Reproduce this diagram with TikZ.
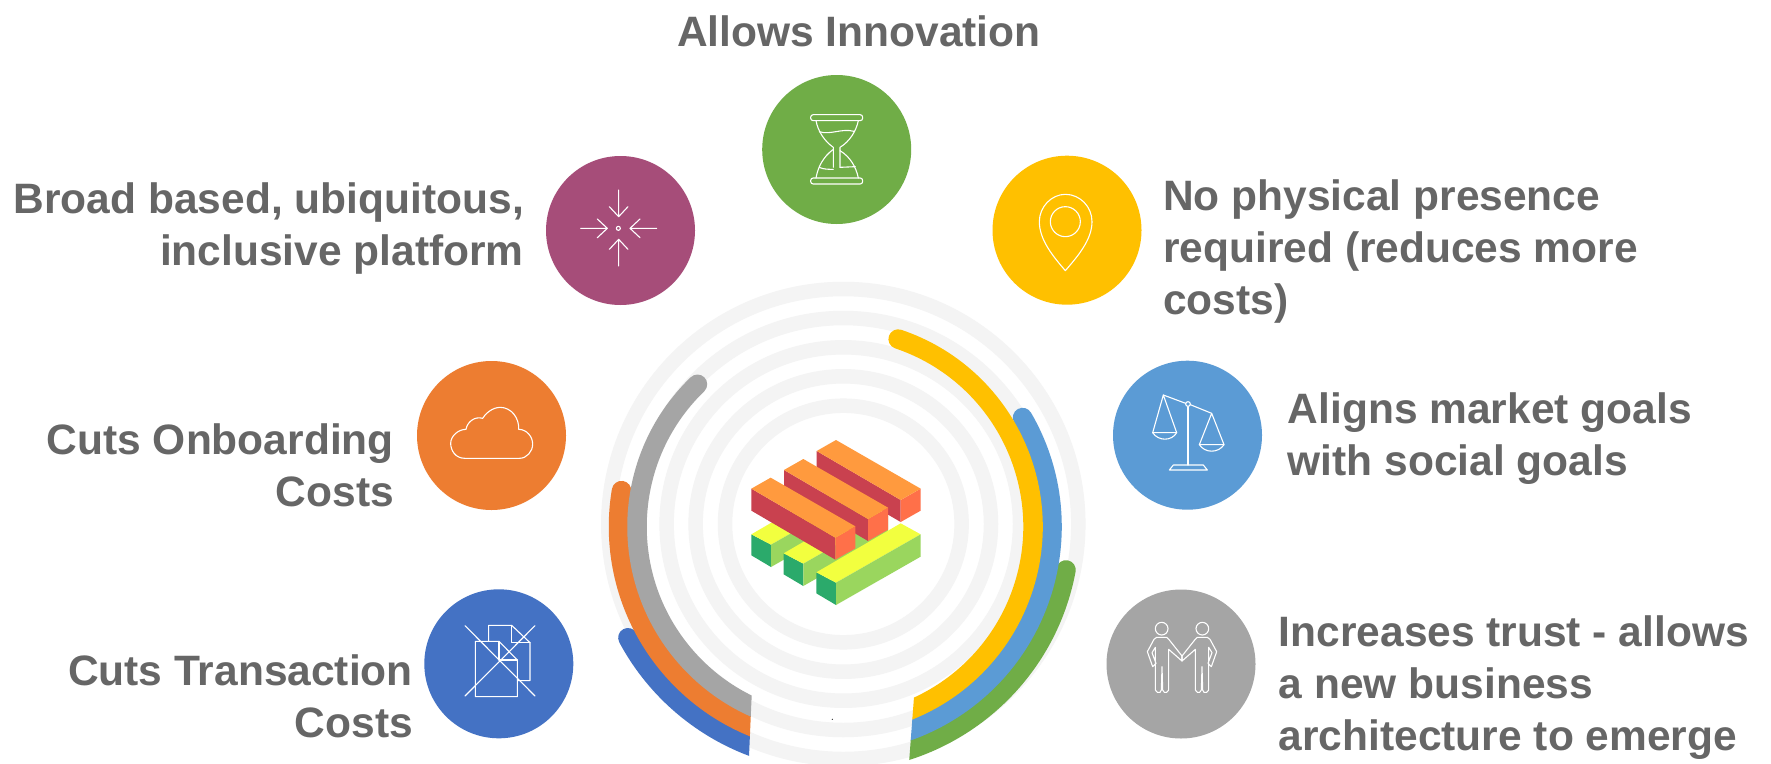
\documentclass[tikz,border=0pt]{standalone}
\usepackage{fontspec}
\setmainfont{Liberation Sans}
\definecolor{txt}{HTML}{666666}
\definecolor{ringc}{HTML}{F4F4F4}
\definecolor{cpurple}{HTML}{A64D79}
\definecolor{cgreen}{HTML}{70AD47}
\definecolor{cyellow}{HTML}{FFC000}
\definecolor{cblue}{HTML}{5B9BD5}
\definecolor{corange}{HTML}{ED7D31}
\definecolor{cgray}{HTML}{A5A5A5}
\definecolor{cdoc}{HTML}{4472C4}
\definecolor{ltop}{HTML}{FF9A3E}
\definecolor{lred}{HTML}{C9414F}
\definecolor{lend}{HTML}{FF7049}
\definecolor{lyel}{HTML}{F2FF3F}
\definecolor{lgrn}{HTML}{2BAA6B}
\definecolor{llgt}{HTML}{9AD65E}
\tikzset{
  disc/.style={circle,fill=#1,draw=none,minimum size=149pt,inner sep=0pt},
  label text/.style={font=\fontsize{42.5}{52}\selectfont\bfseries,text=txt,inner sep=0pt},
  ringline/.style={draw=ringc,line width=14.5pt},
  band/.style={draw=#1,line width=19.5pt,line cap=round},
  iconline/.style={draw=white,line width=1.1pt,line join=round,line cap=round},
  person/.pic={
    \draw[iconline] (95,56) circle[radius=19];
    \draw[iconline] (80,82) -- (110,82) -- (118,90) -- (156,138) -- (156,153) -- (116,118) -- (116,240) -- (110,247) -- (103,247) -- (98,240) -- (96,170) -- (94,240) -- (90,247) -- (82,247) -- (76,240) -- (76,112) -- (66,128) -- (78,160) -- (68,170) -- (52,125) -- (72,88) -- cycle;
  }
}
\begin{document}
\begin{tikzpicture}[x=1pt,y=1pt]
\clip (0,0) rectangle (1771,-763);
\fill[white] (0,0) rectangle (1771,-763);

% pale rings
\coordinate (rc) at (843.3,-524);
\foreach \r in {235,206,176.7,147.7,118.3}
  \draw[ringline] (rc) circle[radius=\r];

% coloured arcs
\coordinate (ac) at (835,-526.7);
\begin{scope}
  \clip (500,-250) -- (755,-250) -- (751.7,-695) -- (748.7,-763) -- (500,-763) -- cycle;
  \draw[band=cdoc] (ac) ++(208.2:235) arc (208.2:265:235);
  \draw[band=corange] (ac) ++(170.4:216.5) arc (170.4:265:216.5);
  \draw[band=cgray] (ac) ++(134:198) arc (134:265:198);
\end{scope}
\begin{scope}
  \clip (850,-250) -- (1200,-250) -- (1200,-763) -- (909,-763) -- (914,-697) -- (880,-500) -- (850,-400) -- cycle;
  \draw[band=cgreen] (ac) ++(-10.6:235) arc (-10.6:-95:235);
  \draw[band=cblue] (ac) ++(30.2:217) arc (30.2:-95:217);
  \draw[band=cyellow] (ac) ++(71.4:198) arc (71.4:-95:198);
\end{scope}
\fill[black] (832.3,-719.3) circle[radius=0.6];

% central logo
\begin{scope}[shift={(590,-270)},x=0.33333pt,y=-0.33333pt]
  \foreach \dx/\dy in {-195/-114,-98/-57,0/0}{
    \begin{scope}[shift={(\dx,\dy)}]
      \fill[lgrn] (679,907) -- (738,938) -- (738,1005) -- (679,970) -- cycle;
      \fill[lyel] (679,907) -- (932,760) -- (992,793) -- (738,938) -- cycle;
      \fill[llgt] (738,938) -- (992,793) -- (992,860) -- (738,1005) -- cycle;
    \end{scope}
  }
  \foreach \dx/\dy in {0/0,-98/57,-196/113}{
    \begin{scope}[shift={(\dx,\dy)}]
      \fill[lred] (680,543) -- (932,690) -- (932,756) -- (680,609) -- cycle;
      \fill[lend] (932,690) -- (992,656) -- (992,722) -- (932,756) -- cycle;
      \fill[ltop] (680,543) -- (738,510) -- (992,656) -- (932,690) -- cycle;
    \end{scope}
  }
\end{scope}

% discs
\node[disc=cgreen]  (dInnov)  at (836.7,-149.5) {};
\node[disc=cpurple] (dBroad)  at (620.5,-230.5) {};
\node[disc=cyellow] (dPres)   at (1067,-230.2) {};
\node[disc=corange] (dOnb)    at (491.5,-435.5) {};
\node[disc=cblue]   (dAlign)  at (1187.5,-435.2) {};
\node[disc=cdoc]    (dTrans)  at (498.8,-663.8) {};
\node[disc=cgray]   (dTrust)  at (1181,-664) {};

% hourglass
\begin{scope}[shift={(790,-90)},x=0.33333pt,y=-0.33333pt]
  \draw[iconline,rounded corners=2.5pt] (62,74) rectangle (218,92);
  \draw[iconline,rounded corners=2.5pt] (62,264) rectangle (218,282);
  \draw[iconline] (78,92) .. controls (84,125) and (105,155) .. (130,172) -- (130,232);
  \draw[iconline] (205,92) .. controls (198,125) and (178,155) .. (150,172) -- (150,232);
  \draw[iconline] (130,178) .. controls (100,200) and (84,230) .. (78,264);
  \draw[iconline] (150,182) .. controls (180,200) and (198,230) .. (205,264);
  \draw[iconline] (88,125) .. controls (120,136) and (155,114) .. (192,124);
  \draw[iconline] (88,232) .. controls (100,238) and (115,238) .. (130,238);
  \draw[iconline] (150,232) -- (196,230);
\end{scope}

% arrows to a point
\begin{scope}[shift={(370,-60)},x=0.33333pt,y=-0.33333pt]
  \draw[iconline] (745,505) circle[radius=6];
  \draw[iconline] (746,390) -- (746,470) (718,440) -- (746,470) -- (774,440);
  \draw[iconline] (746,618) -- (746,538) (718,568) -- (746,538) -- (774,568);
  \draw[iconline] (632,505) -- (712,505) (682,477) -- (712,505) -- (682,533);
  \draw[iconline] (860,505) -- (780,505) (810,477) -- (780,505) -- (810,533);
\end{scope}

% location pin
\begin{scope}[shift={(870,-130)},x=0.33333pt,y=-0.33333pt]
  \draw[iconline] (586,422) .. controls (550,380) and (508,330) .. (508,275) .. controls (508,230) and (545,193) .. (586,193) .. controls (630,193) and (666,230) .. (666,275) .. controls (666,330) and (622,380) .. (586,422) -- cycle;
  \draw[iconline] (586,275) circle[radius=45];
\end{scope}

% cloud
\begin{scope}[shift={(360,-310)},x=0.33333pt,y=-0.33333pt]
  \draw[iconline] (315,445) .. controls (285,445) and (272,420) .. (272,400) .. controls (272,378) and (295,358) .. (318,358) .. controls (322,335) and (345,318) .. (368,325) .. controls (385,298) and (410,292) .. (420,292) .. controls (455,292) and (478,325) .. (476,358) .. controls (500,358) and (518,380) .. (518,402) .. controls (518,425) and (500,445) .. (478,445) -- cycle;
\end{scope}

% scales
\begin{scope}[shift={(1130,-410)},x=0.33333pt,y=-0.33333pt]
  \draw[iconline] (174,-10) -- (174,165);
  \draw[iconline] (174,-18) circle[radius=7];
  \draw[iconline] (100,-45) -- (167,-20) (181,-16) -- (245,10);
  \draw[iconline] (130,165) -- (220,165) -- (232,180) -- (118,180) -- cycle;
  \draw[iconline] (68,68) -- (100,-45) -- (140,68) -- cycle;
  \draw[iconline] (68,68) .. controls (85,94) and (125,94) .. (140,68);
  \draw[iconline] (208,104) -- (245,10) -- (282,104) -- cycle;
  \draw[iconline] (208,104) .. controls (225,130) and (265,130) .. (282,104);
\end{scope}

% documents crossed out
\begin{scope}[shift={(450,-610)},x=0.33333pt,y=-0.33333pt]
  \draw[iconline] (116,92) -- (116,46) -- (185,46) -- (240,98) -- (240,212) -- (205,212);
  \draw[iconline] (185,46) -- (185,98) -- (240,98);
  \draw[iconline] (76,94) -- (147,94) -- (202,150) -- (202,260) -- (76,260) -- cycle;
  \draw[iconline] (147,94) -- (147,150) -- (202,150);
  \draw[iconline] (45,47) -- (255,258) (255,47) -- (45,258);
\end{scope}

% two people
\begin{scope}[shift={(1130,-610)},x=0.33333pt,y=-0.33333pt]
  \pic at (0,0) {person};
  \pic[xscale=-1] at (312,0) {person};
\end{scope}

% labels
\node[label text,anchor=base] (tInnov) at (858.8,-46) {Allows Innovation};
\node[label text,align=right,anchor=north east] (tBroad) at (524,-182) {Broad based, ubiquitous,\\inclusive platform};
\node[label text,align=right,anchor=north east] (tOnb) at (394,-423) {Cuts Onboarding\\Costs};
\node[label text,align=right,anchor=north east] (tTrans) at (413,-654) {Cuts Transaction\\Costs};
\node[label text,align=left,anchor=north west] (tPres) at (1163,-179) {No physical presence\\required (reduces more\\costs)};
\node[label text,align=left,anchor=north west] (tAlign) at (1287.6,-392) {Aligns market goals\\with social goals};
\node[label text,align=left,anchor=north west] (tTrust) at (1278.6,-615.5) {Increases trust - allows\\a new business\\architecture to emerge};
\end{tikzpicture}
\end{document}
